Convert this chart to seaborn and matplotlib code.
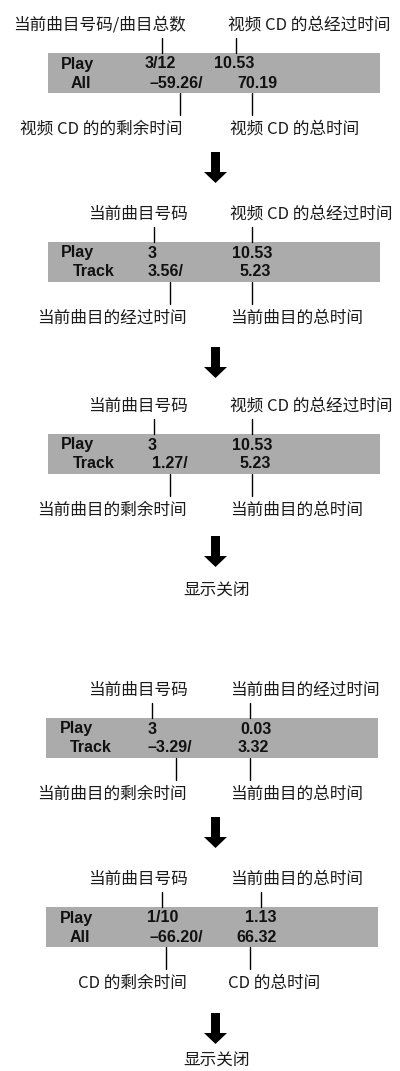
import matplotlib
matplotlib.use("Agg")
import matplotlib.pyplot as plt
import seaborn as sns

# texts of the five display panels
mode_row1 = ["Play", "Play", "Play", "Play", "Play"]
mode_row2 = ["All", "Track", "Track", "Track", "All"]
num_row1 = ["3/12", "3", "3", "3", "1/10"]
time_row1 = ["10.53", "10.53", "10.53", "0.03", "1.13"]
num_row2 = ["–59.26/", "3.56/", "1.27/", "–3.29/", "–66.20/"]
time_row2 = ["70.19", "5.23", "5.23", "3.32", "66.32"]

top_left = ["当前曲目号码/曲目总数", "当前曲目号码", "当前曲目号码", "当前曲目号码", "当前曲目号码"]
top_right = ["视频 CD 的总经过时间", "视频 CD 的总经过时间", "视频 CD 的总经过时间",
             "当前曲目的经过时间", "当前曲目的总时间"]
bottom_left = ["视频 CD 的的剩余时间", "当前曲目的经过时间", "当前曲目的剩余时间",
               "当前曲目的剩余时间", "CD 的剩余时间"]
bottom_right = ["视频 CD 的总时间", "当前曲目的总时间", "当前曲目的总时间",
                "当前曲目的总时间", "CD 的总时间"]
off_text = "显示关闭"

# layout (pixels)
box_top = [53, 242, 434, 718, 907]
box_left = [48, 48, 48, 46, 46]
top_tick_x = [(162, 236), (154, 252), (154, 252), (152, 250), (162, 261)]
bot_tick_x = [(180, 252), (170, 252), (170, 252), (176, 250), (166, 250)]
val_x = [(145, 214, 150, 237), (148, 232, 148, 240), (148, 232, 152, 240),
         (148, 240, 148, 238), (147, 245, 150, 236)]
mode_x = [(61, 71), (61, 73), (61, 73), (60, 70), (60, 70)]
tl_x = [13, 88, 88, 88, 88]
tr_x = [228, 230, 230, 230, 230]
bl_x = [20, 37, 37, 37, 78]
br_x = [230, 230, 230, 230, 228]
arrow_top = [152, 347, 536, 817, 1013]
off_y = [591, 1061]

sns.set_theme(style="white")
plt.rcParams["font.family"] = ["Noto Sans CJK SC", "DejaVu Sans"]

fig = plt.figure(figsize=(4, 10.71), dpi=100)
ax = fig.add_axes([0, 0, 1, 1])
ax.set_xlim(0, 400)
ax.set_ylim(1071, 0)
ax.axis("off")

cjk = dict(fontsize=12, color="#1a1a1a", va="center", ha="left")
bold = dict(fontsize=11.5, fontweight="bold", color="#111111", va="center", ha="left",
            family="Liberation Sans")

for i in range(5):
    b = box_top[i]
    ax.add_patch(plt.Rectangle((box_left[i], b), 332, 40, color="#ababab", lw=0))
    ax.text(tl_x[i], b - 28, top_left[i], **cjk)
    ax.text(tr_x[i], b - 28, top_right[i], **cjk)
    ax.text(bl_x[i], b + 76, bottom_left[i], **cjk)
    ax.text(br_x[i], b + 76, bottom_right[i], **cjk)
    for x in top_tick_x[i]:
        ax.plot([x, x], [b - 15, b], color="black", lw=1)
    for x in bot_tick_x[i]:
        ax.plot([x, x], [b + 40, b + 62], color="black", lw=1)
    ax.text(mode_x[i][0], b + 11, mode_row1[i], **bold)
    ax.text(mode_x[i][1], b + 30, mode_row2[i], **bold)
    ax.text(val_x[i][0], b + 11, num_row1[i], **bold)
    ax.text(val_x[i][1], b + 11, time_row1[i], **bold)
    ax.text(val_x[i][2], b + 30, num_row2[i], **bold)
    ax.text(val_x[i][3], b + 30, time_row2[i], **bold)

for t in arrow_top:
    cx = 215.5
    xs = [cx - 4.5, cx + 4.5, cx + 4.5, cx + 11.5, cx, cx - 11.5, cx - 4.5]
    ys = [t, t, t + 20, t + 20, t + 31, t + 20, t + 20]
    ax.fill(xs, ys, color="black", lw=0)

for y in off_y:
    ax.text(217, y, off_text, fontsize=12, color="#1a1a1a", va="center", ha="center")

fig.savefig("out.png", dpi=100)
